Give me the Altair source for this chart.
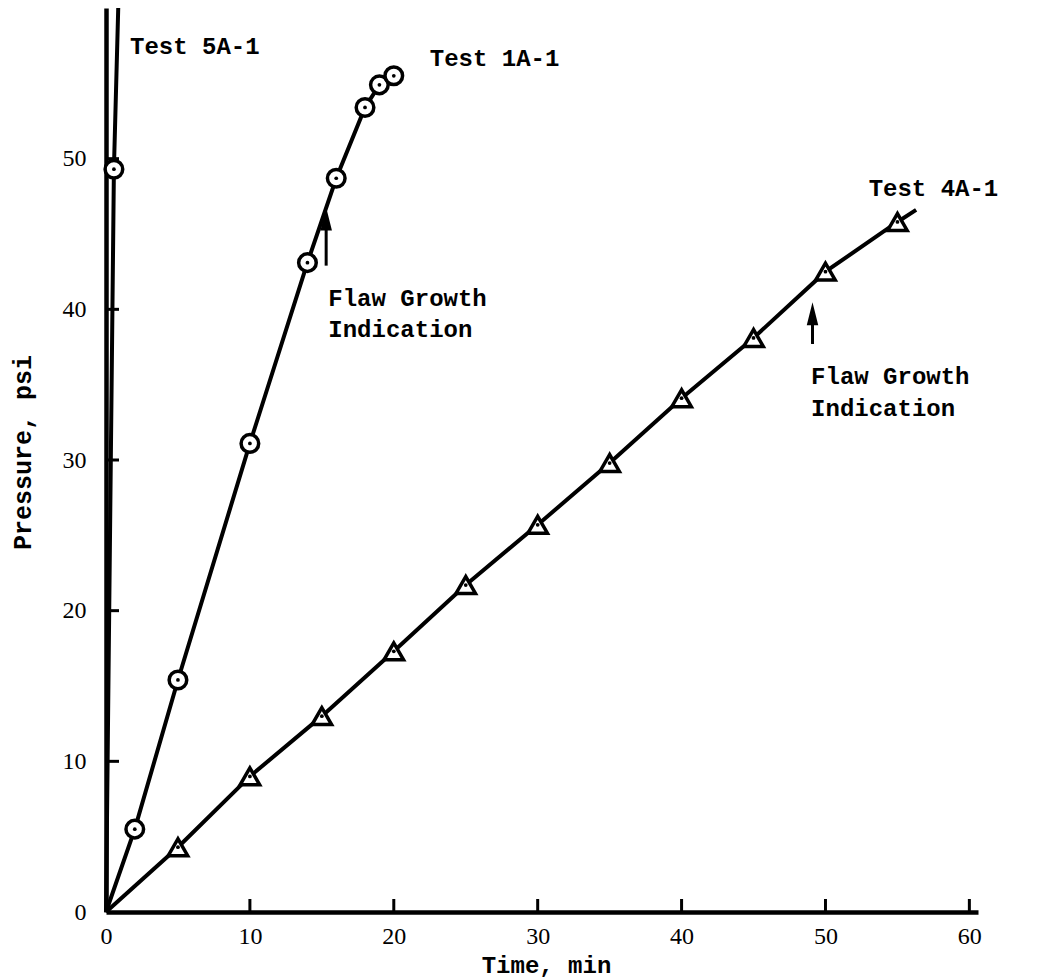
import altair as alt
import pandas as pd

# ---- data ----
t1_time = [2, 5, 10, 14, 16, 18, 19, 20]
t1_pres = [5.5, 15.4, 31.1, 43.1, 48.7, 53.4, 54.9, 55.5]

t4_time = [5, 10, 15, 20, 25, 30, 35, 40, 45, 50, 55]
t4_pres = [4.3, 9.0, 13.0, 17.3, 21.7, 25.7, 29.8, 34.1, 38.1, 42.5, 45.8]
t4_end = (56.3, 46.6)

t5_time = [0.55]
t5_pres = [49.3]
t5_end = (0.85, 60.0)

x_ticks = [0, 10, 20, 30, 40, 50, 60]
y_ticks = [0, 10, 20, 30, 40, 50]

labels_text = ["Test 5A-1", "Test 1A-1", "Test 4A-1",
               "Flaw Growth", "Indication", "Flaw Growth", "Indication"]
labels_x = [1.67, 22.5, 53.0, 15.45, 15.45, 49.0, 49.0]
labels_y = [57.4, 56.6, 48.0, 40.7, 38.6, 35.5, 33.4]

arrow_x = [15.3, 49.1]
arrow_base = [42.9, 37.7]
arrow_head = [46.0, 39.7]

# ---- tables ----
rows = []
for s, xs, ys, end in [("1A-1", t1_time, t1_pres, None),
                       ("4A-1", t4_time, t4_pres, t4_end),
                       ("5A-1", t5_time, t5_pres, t5_end)]:
    pts = [(0, 0)] + list(zip(xs, ys)) + ([end] if end else [])
    for i, (a, b) in enumerate(pts):
        rows.append({"series": s, "t": a, "p": b, "o": i})
lines_df = pd.DataFrame(rows)

circ_df = pd.DataFrame({"t": t1_time + t5_time, "p": t1_pres + t5_pres})
tri_df = pd.DataFrame({"t": t4_time, "p": t4_pres})
dot_df = pd.DataFrame({"t": t1_time + t5_time + t4_time,
                       "p": t1_pres + t5_pres + t4_pres})
lab_df = pd.DataFrame({"text": labels_text, "t": labels_x, "p": labels_y})
arr_df = pd.DataFrame({"t": arrow_x, "p0": arrow_base, "p1": arrow_head})
xt_df = pd.DataFrame({"t": x_ticks[1:]})
yt_df = pd.DataFrame({"p": y_ticks[1:]})

xscale = alt.Scale(domain=[0, 60.6], nice=False, zero=False)
yscale = alt.Scale(domain=[0, 60], nice=False, zero=False)

X = alt.X("t:Q", scale=xscale, axis=alt.Axis(
    values=x_ticks, title="Time, min", grid=False, ticks=False,
    domainColor="black", domainWidth=4.5, labelFont="Liberation Serif",
    labelFontSize=24, labelColor="black", labelPadding=12,
    titleFont="Liberation Mono", titleFontSize=24, titleFontWeight="bold",
    titleColor="black", titleX=440, titleY=60, titleBaseline="alphabetic",
    titleAlign="center", titleAnchor="middle", labelFlush=False))
Y = alt.Y("p:Q", scale=yscale, axis=alt.Axis(
    values=y_ticks, title="Pressure, psi", grid=False, ticks=False,
    domainColor="black", domainWidth=4.5, labelFont="Liberation Serif",
    labelFontSize=24, labelColor="black", labelPadding=20,
    titleFont="Liberation Mono", titleFontSize=25, titleFontWeight="bold",
    titleColor="black", titleX=-84, titleY=444, titleAngle=-90,
    titleBaseline="middle", titleAlign="center", titleAnchor="middle",
    labelFlush=False))

lines = alt.Chart(lines_df).mark_line(color="black", strokeWidth=4).encode(
    x=X, y=Y, detail="series:N", order="o:Q")

circles = alt.Chart(circ_df).mark_point(
    shape="circle", filled=True, fill="white", stroke="black",
    strokeWidth=3.5, size=310, opacity=1).encode(x="t:Q", y="p:Q")

tris = alt.Chart(tri_df).mark_point(
    shape="triangle-up", filled=True, fill="white", stroke="black",
    strokeWidth=3.5, size=380, opacity=1).encode(x="t:Q", y="p:Q")

dots = alt.Chart(dot_df).mark_point(
    shape="circle", filled=True, color="black", size=14, opacity=1).encode(
    x="t:Q", y="p:Q")

shafts = alt.Chart(arr_df).mark_rule(color="black", strokeWidth=3).encode(
    x="t:Q", y=alt.Y("p0:Q"), y2="p1:Q")
heads = alt.Chart(arr_df).mark_point(
    shape="M0,-1L-0.5,1L0.5,1Z", filled=True, color="black", size=529,
    opacity=1).encode(x="t:Q", y=alt.Y("p1:Q"))

texts = alt.Chart(lab_df).mark_text(
    align="left", baseline="middle", font="Liberation Mono", fontSize=24,
    fontWeight="bold", color="black").encode(x="t:Q", y="p:Q", text="text:N")

xticks = alt.Chart(xt_df).mark_tick(
    orient="vertical", size=13, thickness=3, color="black", yOffset=-6.5,
    opacity=1).encode(x="t:Q", y=alt.datum(0))
yticks = alt.Chart(yt_df).mark_tick(
    orient="horizontal", size=13, thickness=3, color="black", xOffset=6.5,
    opacity=1).encode(y="p:Q", x=alt.datum(0))

chart = alt.layer(lines, xticks, yticks, shafts, heads, circles, tris, dots,
                  texts).properties(
    width=872, height=904,
    autosize=alt.AutoSizeParams(type="none"),
    padding={"left": 106, "top": 8, "right": 86, "bottom": 67},
).configure(background="white", view=alt.ViewConfig(stroke=None))

chart.save("out.html", embed_options={"renderer": "svg", "actions": False})
